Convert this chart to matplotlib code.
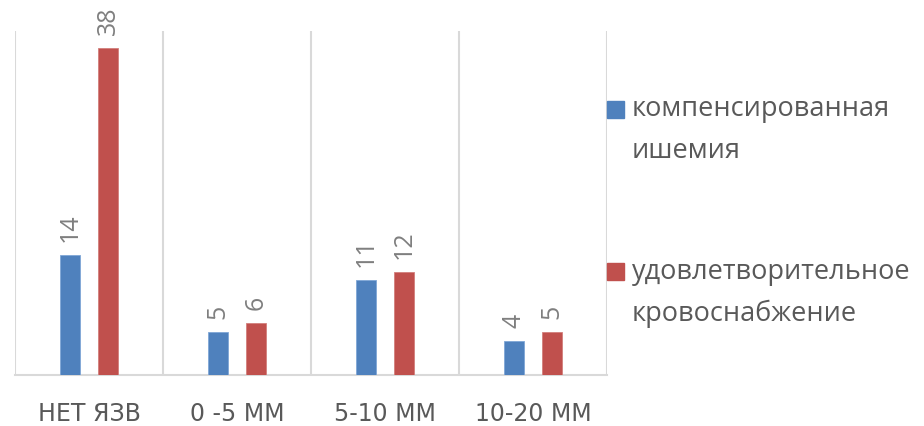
import matplotlib
matplotlib.use("Agg")
import matplotlib.pyplot as plt
from matplotlib.patches import Rectangle
import numpy as np

plt.rcParams['font.family'] = ['Open Sans', 'DejaVu Sans']

categories = ["НЕТ ЯЗВ", "0 -5 ММ", "5-10 ММ", "10-20 ММ"]
series_names = ["компенсированная\nишемия", "удовлетворительное\nкровоснабжение"]
compensated = [14, 5, 11, 4]
satisfactory = [38, 6, 12, 5]
colors = ["#4F81BD", "#C0504D"]

W, H, DPI = 924, 427, 100
fig = plt.figure(figsize=(W / DPI, H / DPI), dpi=DPI)

left, right, top, bottom = 15, 607, 32, 376
ax = fig.add_axes([left / W, 1 - bottom / H, (right - left) / W, (bottom - top) / H])

x = np.arange(len(categories))
bw = 0.135
off = 0.128
bars1 = ax.bar(x - off, compensated, bw, color=colors[0], edgecolor="#7FA6D6", linewidth=0.6, zorder=3)
bars2 = ax.bar(x + off, satisfactory, bw, color=colors[1], edgecolor="#D27F7C", linewidth=0.6, zorder=3)

for bars, vals in ((bars1, compensated), (bars2, satisfactory)):
    for b, v in zip(bars, vals):
        ax.annotate(str(v), (b.get_x() + b.get_width() / 2, v),
                    xytext=(0, 14), textcoords="offset pixels",
                    rotation=90, ha="center", va="bottom",
                    fontsize=18, color="#7F7F7F", annotation_clip=False)

ax.set_xlim(-0.5, len(categories) - 0.5)
ax.set_ylim(0, 40)
ax.set_yticks([])
ax.set_xticks(x)
ax.set_xticklabels(categories, fontsize=17, color="#595959", family=["DejaVu Sans"])
ax.tick_params(axis="x", length=0, pad=19)

for s in ("top", "right", "left"):
    ax.spines[s].set_visible(False)
ax.spines["bottom"].set_color("#D9D9D9")
ax.spines["bottom"].set_linewidth(1.5)

for b in np.arange(-0.5, len(categories), 1.0):
    ax.axvline(b, color="#D9D9D9", linewidth=1.5, zorder=1)

# legend, markers beside the first line of each entry
marker_rows = [110.5, 272.5]
last_baselines = [158, 321]
for name, col, yc, yb in zip(series_names, colors, marker_rows, last_baselines):
    fig.patches.append(Rectangle((607 / W, 1 - (yc + 8.5) / H), 17 / W, 17 / H,
                                 transform=fig.transFigure, color=col))
    fig.text(632 / W, 1 - yb / H, name, fontsize=19.5, color="#595959",
             ha="left", va="baseline", linespacing=1.65)

fig.savefig("out.png", dpi=DPI)
